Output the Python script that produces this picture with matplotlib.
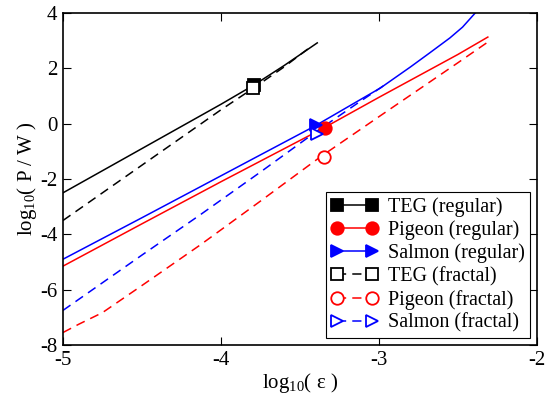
import numpy as np
import matplotlib
matplotlib.use("Agg")
import matplotlib.pyplot as plt
from matplotlib.lines import Line2D

plt.rcParams['font.family'] = ['Liberation Serif', 'DejaVu Serif']
plt.rcParams['mathtext.fontset'] = 'custom'
plt.rcParams['mathtext.rm'] = 'Liberation Serif'
plt.rcParams['mathtext.it'] = 'Liberation Serif'
plt.rcParams['axes.unicode_minus'] = False

# curves: log10(eps) vs log10(P/W)
teg_reg_x = [-5.0, -4.5, -4.0, -3.79, -3.6, -3.39]
teg_reg_y = [-2.5, -0.9, 0.70, 1.40, 2.10, 2.92]
teg_frac_x = [-5.0, -4.5, -4.0, -3.79, -3.6, -3.45]
teg_frac_y = [-3.5, -1.5, 0.50, 1.30, 2.05, 2.70]

pig_reg_x = [-5.0, -4.5, -4.0, -3.36, -3.0, -2.5, -2.31]
pig_reg_y = [-5.15, -3.62, -2.10, -0.19, 0.95, 2.50, 3.13]
pig_frac_x = [-5.0, -4.9, -4.75, -4.5, -4.13, -3.75, -3.37, -3.0, -2.5, -2.31]
pig_frac_y = [-7.55, -7.25, -6.83, -5.85, -4.38, -2.80, -1.20, 0.25, 2.20, 2.95]

sal_reg_x = [-5.0, -4.5, -4.13, -3.8, -3.41, -3.12, -2.99, -2.80, -2.68, -2.55, -2.47, -2.39]
sal_reg_y = [-4.9, -3.4, -2.28, -1.28, -0.10, 0.86, 1.29, 2.05, 2.55, 3.10, 3.49, 4.0]
sal_frac_x = [-5.0, -4.5, -4.13, -3.75, -3.40, -3.15, -2.95]
sal_frac_y = [-6.75, -4.75, -3.29, -1.75, -0.30, 0.68, 1.45]

# marker positions
teg_reg_mark = (-3.79, 1.40)
teg_frac_mark = (-3.80, 1.29)
pig_reg_mark = (-3.34, -0.16)
pig_frac_mark = (-3.35, -1.20)
sal_reg_mark = (-3.40, -0.05)
sal_frac_mark = (-3.39, -0.37)

labels = ['TEG (regular)', 'Pigeon (regular)', 'Salmon (regular)',
          'TEG (fractal)', 'Pigeon (fractal)', 'Salmon (fractal)']

fig = plt.figure(figsize=(5.5, 3.94), dpi=100)
ax = fig.add_axes([0.1145, 0.1244, 0.8615, 0.8426])

lw = 1.1
dash = (0, (6, 4))
ms = 9

series = [
    (teg_reg_x, teg_reg_y, teg_reg_mark, 'k', '-', 's', True),
    (pig_reg_x, pig_reg_y, pig_reg_mark, 'r', '-', 'o', True),
    (sal_reg_x, sal_reg_y, sal_reg_mark, 'b', '-', '>', True),
    (teg_frac_x, teg_frac_y, teg_frac_mark, 'k', dash, 's', False),
    (pig_frac_x, pig_frac_y, pig_frac_mark, 'r', dash, 'o', False),
    (sal_frac_x, sal_frac_y, sal_frac_mark, 'b', dash, '>', False),
]

handles = []
for (xs, ys, mk, c, ls, m, filled), lab in zip(series, labels):
    ax.plot(xs, ys, color=c, linestyle=ls, linewidth=lw)
    fc = c if filled else 'white'
    ax.plot([mk[0]], [mk[1]], linestyle='none', marker=m, markersize=ms,
            markerfacecolor=fc, markeredgecolor=c, markeredgewidth=1.3, zorder=5)
    handles.append(Line2D([], [], color=c, linestyle=ls, linewidth=lw, marker=m,
                          markersize=ms, markerfacecolor=fc, markeredgecolor=c,
                          markeredgewidth=1.3, label=lab))

ax.set_xlim(-5, -2)
ax.set_ylim(-8, 4)
ax.set_xticks([-5, -4, -3, -2])
ax.set_yticks([-8, -6, -4, -2, 0, 2, 4])
ax.tick_params(direction='in', top=True, right=True, length=6, width=0.8,
               labelsize=15)
ax.tick_params(axis='x', pad=4)
ax.tick_params(axis='y', pad=4)
for s in ax.spines.values():
    s.set_linewidth(1.2)

ax.set_xlabel(r'log$_{10}$( ε )', fontsize=15, labelpad=1)
ax.set_ylabel(r'log$_{10}$( P / W )', fontsize=15, labelpad=1)

leg = ax.legend(handles=handles, loc='lower right', fontsize=14.5, numpoints=2,
                handlelength=2.3, handletextpad=0.5, borderpad=0.25,
                labelspacing=0.18, borderaxespad=0.35, fancybox=False,
                framealpha=1, edgecolor='black')
leg.get_frame().set_linewidth(0.8)

fig.savefig('out.png', dpi=100)
